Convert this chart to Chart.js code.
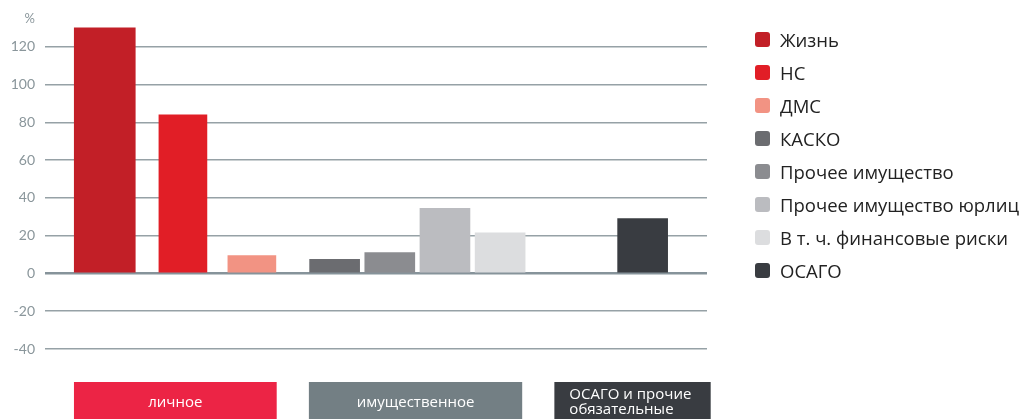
<!DOCTYPE html>
<html lang="ru">
<head>
<meta charset="utf-8">
<script src="https://cdn.jsdelivr.net/npm/chart.js@4.4.0/dist/chart.umd.min.js"></script>
<style>
    html, body { margin: 0; padding: 0; background: #fff; }
    #wrap { position: relative; width: 1027px; height: 419px; overflow: hidden; }
    #legend { position: absolute; left: 755px; top: 23px; margin: 0; padding: 0; list-style: none;
              font-family: "Open Sans", sans-serif; font-size: 18.5px; color: #222; }
    #legend li { height: 33px; display: flex; align-items: center; white-space: nowrap; }
    #legend .box { width: 15px; height: 15px; border-radius: 3px; margin-right: 10px; flex: none; }
</style>
</head>
<body>
<div id="wrap">
    <canvas id="chart" width="1027" height="419"></canvas>
    <ul id="legend"></ul>
</div>
<script>
// data
const seriesNames = ['Жизнь', 'НС', 'ДМС', 'КАСКО', 'Прочее имущество', 'Прочее имущество юрлиц', 'В т. ч. финансовые риски', 'ОСАГО'];
const seriesValues = [130, 84, 9.5, 7.5, 11, 34.5, 21.5, 29];
const yTickValues = [-40, -20, 0, 20, 40, 60, 80, 100, 120];
const groupNames = [['личное'], ['имущественное'], ['ОСАГО и прочие', 'обязательные']];

// layout (x in slot units of the hidden x axis)
const barSlot = [6.5, 15, 22.5, 31.5, 37.5, 43.5, 49.5, 65];
const barWidth = [61, 48, 48, 50, 50, 50, 50, 50];
const groupSpan = [[3.15, 25.2], [28.7, 51.9], [55.4, 72.4]];
const seriesColors = ['#c21f27', '#e11e26', '#f29383', '#6b6c70', '#8b8c90', '#bbbcc0', '#dcdddf', '#393c41'];
const groupColors = ['#ec2445', '#737f84', '#393c41'];

document.addEventListener("DOMContentLoaded", function() {
    const legend = document.getElementById("legend");
    seriesNames.forEach((name, i) => {
        let li = document.createElement("li");
        li.innerHTML = `<span class="box" style="background:${seriesColors[i]}"></span>${name}`;
        legend.appendChild(li);
    });

    const extras = {
        id: 'extras',
        afterDraw(chart) {
            const c = chart.ctx;
            const xs = chart.scales.x;
            const ys = chart.scales.y;
            const area = chart.chartArea;
            c.save();
            // percent sign above the axis
            c.fillStyle = '#8a969b';
            c.font = '13px Lato, sans-serif';
            c.textAlign = 'right';
            c.textBaseline = 'middle';
            c.fillText('%', 35, ys.getPixelForValue(120) - 28);

            // group boxes under the plot
            const top = area.bottom + 33;
            groupNames.forEach((lines, i) => {
                const x1 = xs.getPixelForValue(groupSpan[i][0]);
                const x2 = xs.getPixelForValue(groupSpan[i][1]);
                c.fillStyle = groupColors[i];
                c.fillRect(x1, top, x2 - x1, chart.height - top);
                c.fillStyle = '#ffffff';
                c.font = '15px "Open Sans", sans-serif';
                c.textBaseline = 'middle';
                if (lines.length === 1) {
                    c.textAlign = 'center';
                    c.fillText(lines[0], (x1 + x2) / 2, top + 21);
                } else {
                    c.textAlign = 'left';
                    lines.forEach((t, j) => c.fillText(t, x1 + 15, top + 13 + j * 15));
                }
            });
            c.restore();
        }
    };

    new Chart(document.getElementById("chart").getContext("2d"), {
        type: 'bar',
        data: {
            datasets: seriesNames.map((name, i) => ({
                label: name,
                data: [{ x: barSlot[i], y: seriesValues[i] }],
                backgroundColor: seriesColors[i],
                barThickness: barWidth[i],
                grouped: false
            }))
        },
        options: {
            responsive: false,
            animation: false,
            layout: { padding: { top: 16, right: 320, bottom: 70, left: 0 } },
            plugins: { legend: { display: false }, tooltip: { enabled: false } },
            scales: {
                x: { type: 'linear', min: 0, max: 72, offset: false, display: false },
                y: {
                    min: -40,
                    max: 135,
                    afterFit(scale) { scale.width = 45; },
                    afterBuildTicks(scale) { scale.ticks = yTickValues.map(v => ({ value: v })); },
                    border: { display: false },
                    grid: {
                        drawTicks: false,
                        color: ctx => ctx.tick && ctx.tick.value === 0 ? '#86939a' : '#96a1a6',
                        lineWidth: ctx => ctx.tick && ctx.tick.value === 0 ? 2.5 : 1.5
                    },
                    ticks: {
                        padding: 10,
                        color: '#8a969b',
                        font: { family: 'Lato, sans-serif', size: 14 }
                    }
                }
            }
        },
        plugins: [extras]
    });
});
</script>
</body>
</html>
